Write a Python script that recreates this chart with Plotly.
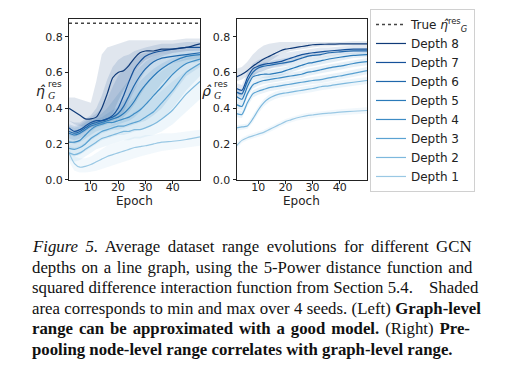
import plotly.graph_objects as go

# ---------------- data ----------------
epochs = [2, 4, 6, 8, 10, 12, 14, 16, 18, 20, 22, 24, 26, 28, 30, 33, 36, 40, 45, 50]
true_graph_range = 0.875
x_ticks = [10, 20, 30, 40]
y_ticks = [0.0, 0.2, 0.4, 0.6, 0.8]
depth_labels = ["Depth 1", "Depth 2", "Depth 3", "Depth 4", "Depth 5", "Depth 6", "Depth 7", "Depth 8"]

# Left: graph-level range estimate (mean, min, max over seeds)
left_d8_mean = [0.40, 0.38, 0.36, 0.34, 0.34, 0.35, 0.40, 0.48, 0.57, 0.60, 0.61, 0.64, 0.68, 0.71, 0.72, 0.72, 0.73, 0.73, 0.74, 0.76]
left_d8_lo = [0.33, 0.31, 0.30, 0.29, 0.29, 0.30, 0.31, 0.33, 0.37, 0.44, 0.50, 0.55, 0.60, 0.64, 0.67, 0.69, 0.70, 0.71, 0.72, 0.73]
left_d8_hi = [0.46, 0.46, 0.45, 0.44, 0.43, 0.55, 0.70, 0.74, 0.75, 0.76, 0.77, 0.78, 0.78, 0.78, 0.78, 0.78, 0.78, 0.78, 0.79, 0.79]
left_d7_mean = [0.29, 0.27, 0.28, 0.30, 0.32, 0.33, 0.33, 0.34, 0.36, 0.40, 0.47, 0.55, 0.62, 0.66, 0.69, 0.71, 0.72, 0.73, 0.74, 0.74]
left_d7_lo = [0.25, 0.24, 0.25, 0.27, 0.29, 0.30, 0.31, 0.32, 0.33, 0.35, 0.38, 0.44, 0.50, 0.56, 0.61, 0.66, 0.69, 0.71, 0.72, 0.72]
left_d7_hi = [0.33, 0.32, 0.32, 0.34, 0.36, 0.40, 0.47, 0.56, 0.63, 0.67, 0.69, 0.70, 0.72, 0.73, 0.74, 0.75, 0.76, 0.76, 0.77, 0.77]
left_d6_mean = [0.27, 0.26, 0.27, 0.29, 0.31, 0.32, 0.33, 0.34, 0.35, 0.37, 0.41, 0.47, 0.53, 0.58, 0.62, 0.66, 0.68, 0.69, 0.70, 0.71]
left_d6_lo = [0.23, 0.22, 0.23, 0.25, 0.27, 0.29, 0.30, 0.31, 0.32, 0.33, 0.35, 0.38, 0.42, 0.47, 0.52, 0.58, 0.62, 0.65, 0.67, 0.68]
left_d6_hi = [0.31, 0.30, 0.31, 0.33, 0.35, 0.37, 0.40, 0.45, 0.52, 0.58, 0.62, 0.65, 0.68, 0.70, 0.71, 0.72, 0.73, 0.73, 0.74, 0.74]
left_d5_mean = [0.26, 0.25, 0.26, 0.28, 0.30, 0.31, 0.32, 0.33, 0.34, 0.35, 0.37, 0.40, 0.44, 0.49, 0.53, 0.58, 0.62, 0.66, 0.69, 0.70]
left_d5_lo = [0.21, 0.20, 0.21, 0.23, 0.25, 0.27, 0.28, 0.29, 0.30, 0.31, 0.32, 0.33, 0.35, 0.38, 0.42, 0.48, 0.54, 0.60, 0.65, 0.66]
left_d5_hi = [0.30, 0.29, 0.30, 0.32, 0.34, 0.35, 0.37, 0.40, 0.44, 0.48, 0.52, 0.56, 0.60, 0.63, 0.66, 0.69, 0.70, 0.71, 0.72, 0.73]
left_d4_mean = [0.21, 0.21, 0.22, 0.25, 0.28, 0.30, 0.31, 0.32, 0.32, 0.33, 0.34, 0.35, 0.37, 0.39, 0.42, 0.47, 0.52, 0.59, 0.65, 0.675]
left_d4_lo = [0.17, 0.17, 0.18, 0.20, 0.22, 0.24, 0.26, 0.27, 0.28, 0.28, 0.29, 0.30, 0.31, 0.32, 0.33, 0.36, 0.40, 0.48, 0.58, 0.63]
left_d4_hi = [0.26, 0.26, 0.27, 0.30, 0.32, 0.34, 0.35, 0.37, 0.39, 0.41, 0.44, 0.47, 0.51, 0.55, 0.58, 0.62, 0.65, 0.68, 0.70, 0.71]
left_d3_mean = [0.175, 0.17, 0.18, 0.20, 0.23, 0.25, 0.27, 0.28, 0.29, 0.30, 0.30, 0.31, 0.32, 0.33, 0.35, 0.38, 0.43, 0.50, 0.60, 0.65]
left_d3_lo = [0.14, 0.13, 0.14, 0.16, 0.18, 0.20, 0.22, 0.23, 0.24, 0.25, 0.25, 0.26, 0.27, 0.28, 0.29, 0.31, 0.34, 0.40, 0.50, 0.58]
left_d3_hi = [0.22, 0.21, 0.22, 0.25, 0.28, 0.30, 0.32, 0.34, 0.36, 0.38, 0.40, 0.43, 0.46, 0.50, 0.53, 0.57, 0.61, 0.65, 0.68, 0.70]
left_d2_mean = [0.15, 0.14, 0.15, 0.17, 0.19, 0.21, 0.23, 0.24, 0.25, 0.26, 0.27, 0.27, 0.28, 0.28, 0.29, 0.31, 0.34, 0.39, 0.48, 0.55]
left_d2_lo = [0.11, 0.10, 0.11, 0.13, 0.15, 0.17, 0.18, 0.19, 0.20, 0.21, 0.22, 0.22, 0.23, 0.23, 0.24, 0.25, 0.27, 0.31, 0.38, 0.45]
left_d2_hi = [0.19, 0.18, 0.19, 0.21, 0.24, 0.26, 0.28, 0.29, 0.31, 0.32, 0.34, 0.36, 0.38, 0.40, 0.42, 0.46, 0.50, 0.55, 0.61, 0.65]
left_d1_mean = [0.15, 0.09, 0.07, 0.075, 0.085, 0.10, 0.115, 0.13, 0.14, 0.15, 0.16, 0.17, 0.18, 0.185, 0.19, 0.20, 0.21, 0.215, 0.225, 0.24]
left_d1_lo = [0.10, 0.05, 0.04, 0.04, 0.045, 0.05, 0.06, 0.07, 0.08, 0.09, 0.10, 0.11, 0.12, 0.13, 0.14, 0.15, 0.16, 0.17, 0.18, 0.19]
left_d1_hi = [0.17, 0.13, 0.12, 0.12, 0.13, 0.15, 0.17, 0.19, 0.20, 0.21, 0.22, 0.23, 0.24, 0.24, 0.25, 0.25, 0.26, 0.26, 0.27, 0.28]

# Right: pre-pooling node-level range estimate (mean, min, max over seeds)
right_d8_mean = [0.575, 0.59, 0.61, 0.635, 0.655, 0.675, 0.69, 0.705, 0.72, 0.73, 0.735, 0.74, 0.745, 0.75, 0.755, 0.757, 0.758, 0.76, 0.76, 0.76]
right_d8_lo = [0.55, 0.56, 0.58, 0.60, 0.62, 0.64, 0.66, 0.68, 0.70, 0.71, 0.72, 0.725, 0.73, 0.735, 0.74, 0.745, 0.745, 0.75, 0.75, 0.75]
right_d8_hi = [0.62, 0.63, 0.66, 0.70, 0.73, 0.75, 0.76, 0.765, 0.77, 0.77, 0.77, 0.77, 0.77, 0.77, 0.77, 0.77, 0.77, 0.77, 0.775, 0.775]
right_d7_mean = [0.51, 0.50, 0.57, 0.62, 0.635, 0.645, 0.65, 0.655, 0.66, 0.67, 0.68, 0.69, 0.70, 0.705, 0.71, 0.715, 0.72, 0.725, 0.73, 0.73]
right_d7_lo = [0.48, 0.47, 0.53, 0.58, 0.60, 0.61, 0.62, 0.63, 0.635, 0.645, 0.655, 0.665, 0.675, 0.685, 0.69, 0.70, 0.705, 0.71, 0.715, 0.715]
right_d7_hi = [0.54, 0.53, 0.60, 0.65, 0.67, 0.68, 0.69, 0.695, 0.70, 0.71, 0.715, 0.72, 0.725, 0.73, 0.735, 0.74, 0.74, 0.745, 0.75, 0.75]
right_d6_mean = [0.49, 0.48, 0.55, 0.60, 0.625, 0.635, 0.64, 0.645, 0.65, 0.655, 0.66, 0.67, 0.68, 0.69, 0.695, 0.70, 0.71, 0.715, 0.72, 0.72]
right_d6_lo = [0.47, 0.46, 0.53, 0.58, 0.60, 0.61, 0.62, 0.625, 0.63, 0.635, 0.64, 0.65, 0.66, 0.67, 0.675, 0.685, 0.69, 0.70, 0.705, 0.705]
right_d6_hi = [0.51, 0.50, 0.57, 0.62, 0.645, 0.655, 0.66, 0.67, 0.675, 0.68, 0.685, 0.69, 0.70, 0.705, 0.71, 0.715, 0.72, 0.725, 0.73, 0.735]
right_d5_mean = [0.465, 0.45, 0.52, 0.575, 0.585, 0.59, 0.59, 0.595, 0.60, 0.61, 0.62, 0.63, 0.64, 0.65, 0.655, 0.665, 0.675, 0.685, 0.695, 0.70]
right_d5_lo = [0.445, 0.43, 0.50, 0.555, 0.565, 0.57, 0.57, 0.575, 0.58, 0.59, 0.60, 0.61, 0.62, 0.63, 0.635, 0.645, 0.655, 0.665, 0.68, 0.685]
right_d5_hi = [0.485, 0.47, 0.54, 0.595, 0.605, 0.61, 0.615, 0.62, 0.625, 0.63, 0.64, 0.65, 0.66, 0.67, 0.675, 0.685, 0.695, 0.705, 0.71, 0.715]
right_d4_mean = [0.42, 0.41, 0.48, 0.53, 0.545, 0.555, 0.56, 0.565, 0.57, 0.575, 0.58, 0.585, 0.59, 0.60, 0.605, 0.615, 0.625, 0.635, 0.65, 0.66]
right_d4_lo = [0.40, 0.39, 0.46, 0.51, 0.525, 0.535, 0.54, 0.545, 0.55, 0.555, 0.56, 0.565, 0.57, 0.58, 0.585, 0.595, 0.605, 0.615, 0.63, 0.64]
right_d4_hi = [0.44, 0.43, 0.50, 0.55, 0.565, 0.575, 0.58, 0.585, 0.59, 0.595, 0.60, 0.605, 0.61, 0.62, 0.625, 0.635, 0.645, 0.655, 0.67, 0.68]
right_d3_mean = [0.37, 0.365, 0.43, 0.48, 0.495, 0.505, 0.515, 0.52, 0.525, 0.53, 0.535, 0.54, 0.545, 0.55, 0.555, 0.56, 0.57, 0.58, 0.595, 0.61]
right_d3_lo = [0.35, 0.345, 0.41, 0.46, 0.475, 0.485, 0.495, 0.50, 0.505, 0.51, 0.515, 0.52, 0.525, 0.53, 0.535, 0.54, 0.55, 0.56, 0.575, 0.59]
right_d3_hi = [0.39, 0.385, 0.45, 0.50, 0.515, 0.525, 0.535, 0.54, 0.545, 0.55, 0.555, 0.56, 0.565, 0.57, 0.575, 0.58, 0.59, 0.60, 0.615, 0.63]
right_d2_mean = [0.29, 0.295, 0.30, 0.34, 0.39, 0.43, 0.455, 0.47, 0.48, 0.485, 0.49, 0.495, 0.50, 0.505, 0.51, 0.52, 0.525, 0.535, 0.545, 0.555]
right_d2_lo = [0.275, 0.28, 0.285, 0.32, 0.37, 0.41, 0.435, 0.45, 0.46, 0.465, 0.47, 0.475, 0.48, 0.485, 0.49, 0.50, 0.505, 0.515, 0.525, 0.535]
right_d2_hi = [0.305, 0.31, 0.315, 0.36, 0.41, 0.45, 0.475, 0.49, 0.50, 0.505, 0.51, 0.515, 0.52, 0.525, 0.53, 0.54, 0.545, 0.555, 0.565, 0.575]
right_d1_mean = [0.19, 0.22, 0.235, 0.245, 0.255, 0.265, 0.28, 0.295, 0.31, 0.325, 0.335, 0.345, 0.352, 0.358, 0.362, 0.368, 0.372, 0.378, 0.383, 0.387]
right_d1_lo = [0.175, 0.205, 0.22, 0.23, 0.24, 0.25, 0.265, 0.28, 0.295, 0.31, 0.32, 0.33, 0.337, 0.343, 0.347, 0.352, 0.356, 0.362, 0.366, 0.37]
right_d1_hi = [0.205, 0.235, 0.25, 0.26, 0.27, 0.28, 0.295, 0.31, 0.325, 0.34, 0.35, 0.36, 0.367, 0.373, 0.377, 0.384, 0.388, 0.394, 0.40, 0.405]

# ---------------- styling ----------------
line_colors = ["#9ac8e4", "#7db8dd", "#5aa2d2", "#3d8cc5", "#2a7ab9", "#1f67ab", "#15519a", "#0f3a78"]
band_alpha = 0.13


def rgba(hex_color, a):
    h = hex_color.lstrip("#")
    r, g, b = int(h[0:2], 16), int(h[2:4], 16), int(h[4:6], 16)
    return f"rgba({r},{g},{b},{a})"


left_series = [
    (left_d1_lo, left_d1_mean, left_d1_hi), (left_d2_lo, left_d2_mean, left_d2_hi),
    (left_d3_lo, left_d3_mean, left_d3_hi), (left_d4_lo, left_d4_mean, left_d4_hi),
    (left_d5_lo, left_d5_mean, left_d5_hi), (left_d6_lo, left_d6_mean, left_d6_hi),
    (left_d7_lo, left_d7_mean, left_d7_hi), (left_d8_lo, left_d8_mean, left_d8_hi),
]
right_series = [
    (right_d1_lo, right_d1_mean, right_d1_hi), (right_d2_lo, right_d2_mean, right_d2_hi),
    (right_d3_lo, right_d3_mean, right_d3_hi), (right_d4_lo, right_d4_mean, right_d4_hi),
    (right_d5_lo, right_d5_mean, right_d5_hi), (right_d6_lo, right_d6_mean, right_d6_hi),
    (right_d7_lo, right_d7_mean, right_d7_hi), (right_d8_lo, right_d8_mean, right_d8_hi),
]

fig = go.Figure()

fig.add_trace(go.Scatter(
    x=[epochs[0], epochs[-1]], y=[true_graph_range, true_graph_range], mode="lines",
    line=dict(color="#444444", width=1.3, dash="dot"),
    name="True <i>η̂</i><sup>res</sup><sub><i>G</i></sub>", legendrank=1,
    xaxis="x", yaxis="y", hoverinfo="skip"))

for series, xa, ya in [(left_series, "x", "y"), (right_series, "x2", "y2")]:
    for i, (lo, mean, hi) in enumerate(series):
        fig.add_trace(go.Scatter(
            x=epochs + epochs[::-1], y=hi + lo[::-1], mode="lines", fill="toself",
            fillcolor=rgba(line_colors[i], band_alpha), line=dict(width=0),
            showlegend=False, hoverinfo="skip", xaxis=xa, yaxis=ya))
    for i, (lo, mean, hi) in enumerate(series):
        fig.add_trace(go.Scatter(
            x=epochs, y=mean, mode="lines",
            line=dict(color=line_colors[i], width=1.2, shape="spline", smoothing=0.6),
            name=depth_labels[i], legendgroup=depth_labels[i],
            showlegend=(xa == "x"), legendrank=10 - i,
            hoverinfo="skip", xaxis=xa, yaxis=ya))

W, H = 518, 372


def fx(p):
    return p / W


def fy(p):
    return 1 - p / H


ax_common = dict(showgrid=False, zeroline=False, showline=True, mirror=True, linecolor="#222222",
                 linewidth=1, ticks="outside", ticklen=3, tickwidth=1, tickcolor="#222222",
                 tickfont=dict(family="DejaVu Sans", size=11, color="#222222"))
xcommon = dict(ax_common, range=[2, 50], tickvals=x_ticks, ticklabelstandoff=-6)
ycommon = dict(ax_common, range=[0, 0.9], tickvals=y_ticks, tickformat=".1f")

ydom = [fy(175), fy(11)]
fig.update_layout(
    width=W, height=H, margin=dict(l=0, r=0, t=0, b=0),
    paper_bgcolor="white", plot_bgcolor="white",
    xaxis=dict(xcommon, domain=[fx(61), fx(192)], anchor="y"),
    yaxis=dict(ycommon, domain=ydom, anchor="x"),
    xaxis2=dict(xcommon, domain=[fx(228.5), fx(359)], anchor="y2"),
    yaxis2=dict(ycommon, domain=ydom, anchor="x2"),
    legend=dict(x=fx(362), y=fy(1), xanchor="left", yanchor="top",
                bgcolor="white", bordercolor="#d0d0d0", borderwidth=1,
                font=dict(family="DejaVu Sans", size=12, color="#222222"),
                traceorder="normal", itemwidth=30),
    showlegend=True,
)

ann = []
for cx in [(61 + 192) / 2, (228.5 + 359) / 2]:
    ann.append(dict(x=fx(cx), y=fy(197), xref="paper", yref="paper", text="Epoch", showarrow=False,
                    font=dict(family="DejaVu Sans", size=12, color="#222222"),
                    xanchor="center", yanchor="middle"))

lab_font = dict(family="DejaVu Sans", size=14, color="#222222")
small_font = dict(family="DejaVu Sans", size=9, color="#222222")
sub_font = dict(family="Liberation Serif", size=10, color="#222222")
for (cx, sym) in [(33, "<i>η̂</i>"), (199, "<i>ρ̂</i>")]:
    ann.append(dict(x=fx(cx), y=fy(85), xref="paper", yref="paper", text=sym, showarrow=False,
                    font=lab_font, xanchor="center", yanchor="middle"))
    ann.append(dict(x=fx(cx + 5), y=fy(77), xref="paper", yref="paper", text="res", showarrow=False,
                    font=small_font, xanchor="left", yanchor="middle"))
    ann.append(dict(x=fx(cx + 5), y=fy(89), xref="paper", yref="paper", text="<i>G</i>", showarrow=False,
                    font=sub_font, xanchor="left", yanchor="middle"))

# caption: each line is a left part (left-aligned) and an optional last word
# right-aligned to the justified edge
cap_font = dict(family="Liberation Serif", size=16.8, color="#111111")
caption_left = [
    "<i>Figure 5.</i> Average dataset range evolutions for different GCN",
    "depths on a line graph, using the 5-Power distance function and",
    "squared difference interaction function from Section 5.4.",
    "area corresponds to min and max over 4 seeds. (Left) <b>Graph-level</b>",
    "<b>range can be approximated with a good model.</b> (Right) <b>Pre-</b>",
    "<b>pooling node-level range correlates with graph-level range.</b>",
]
caption_right = ["", "", "Shaded", "", "", ""]
word_gap = [3.3, 1.4, 0.0, 0.2, 1.7, 0.0]
cap_y = [243, 264, 285, 306, 327, 348]
for t, tr, yy, wg in zip(caption_left, caption_right, cap_y, word_gap):
    txt = f'<span style="word-spacing:{wg}px">{t}</span>' if wg > 0 else t
    ann.append(dict(x=fx(21.5), y=fy(yy), xref="paper", yref="paper", text=txt, showarrow=False,
                    font=cap_font, xanchor="left", yanchor="middle", align="left"))
    if tr:
        ann.append(dict(x=fx(473), y=fy(yy), xref="paper", yref="paper", text=tr, showarrow=False,
                        font=cap_font, xanchor="right", yanchor="middle", align="right"))
fig.update_layout(annotations=ann)

fig.write_html("out.html")
